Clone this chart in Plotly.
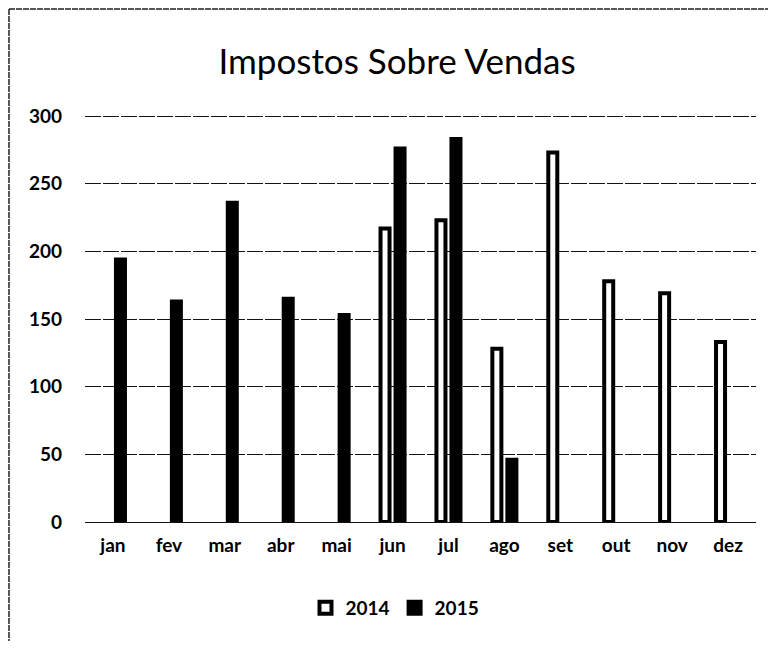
import plotly.graph_objects as go

months = ["jan", "fev", "mar", "abr", "mai", "jun", "jul", "ago", "set", "out", "nov", "dez"]
v2014 = [None, None, None, None, None, 217, 223, 128, 273, 178, 169, 133]
v2015 = [194, 163, 236, 165, 153, 276, 283, 46, None, None, None, None]
yticks = [0, 50, 100, 150, 200, 250, 300]

# page body has an 8px margin; work in screen coordinates and subtract it
OFF = 8
W, H = 760, 633
plot_left, plot_right, plot_top, plot_bottom = 85, 756, 115, 522
L = plot_left - OFF
R = W - (plot_right - OFF)
T = plot_top - OFF
B = H - (plot_bottom - OFF)
pw, ph = plot_right - plot_left, plot_bottom - plot_top

def px_x(p):
    return (p - plot_left) / pw

def px_y(p):
    return (plot_bottom - p) / ph

fig = go.Figure()
fig.add_trace(go.Bar(x=months, y=v2014, name="2014",
                     marker=dict(color="white", line=dict(color="black", width=4))))
fig.add_trace(go.Bar(x=months, y=v2015, name="2015",
                     marker=dict(color="black", line=dict(color="black", width=4))))

tick_font = dict(family="Lato", size=19, color="black", weight="bold")

fig.update_layout(
    width=W, height=H,
    margin=dict(l=L, r=R, t=T, b=B),
    paper_bgcolor="white", plot_bgcolor="white",
    barmode="group", bargap=0.463, bargroupgap=0.4,
    title=dict(text="Impostos Sobre Vendas", xref="paper", x=px_x(397), xanchor="center",
               yref="container", y=1 - (62 - OFF) / H, yanchor="middle",
               font=dict(family="Lato", size=35, color="black")),
    font=dict(family="Lato", size=19, color="black"),
    legend=dict(orientation="h", x=px_x(395), xanchor="center", y=px_y(608), yanchor="middle",
                font=tick_font, traceorder="normal", itemwidth=30),
    xaxis=dict(showgrid=False, showline=False, ticks="", ticklabelstandoff=10,
               tickfont=tick_font),
    yaxis=dict(range=[0, 300.8], tickvals=yticks, showgrid=True, gridcolor="#111111",
               gridwidth=1.3, griddash="16px,2px", zeroline=True, zerolinecolor="#111111",
               zerolinewidth=1.3, showline=False, ticks="", ticklabelstandoff=22,
               tickfont=tick_font),
    shapes=[
        dict(type="line", xref="paper", yref="paper", x0=px_x(9), x1=px_x(9),
             y0=px_y(9), y1=px_y(660), line=dict(color="#222222", width=1.5, dash="6px,1px")),
        dict(type="line", xref="paper", yref="paper", x0=px_x(9), x1=px_x(790),
             y0=px_y(9), y1=px_y(9), line=dict(color="#222222", width=1.5, dash="6px,1px")),
    ],
)

fig.write_html("out.html")
